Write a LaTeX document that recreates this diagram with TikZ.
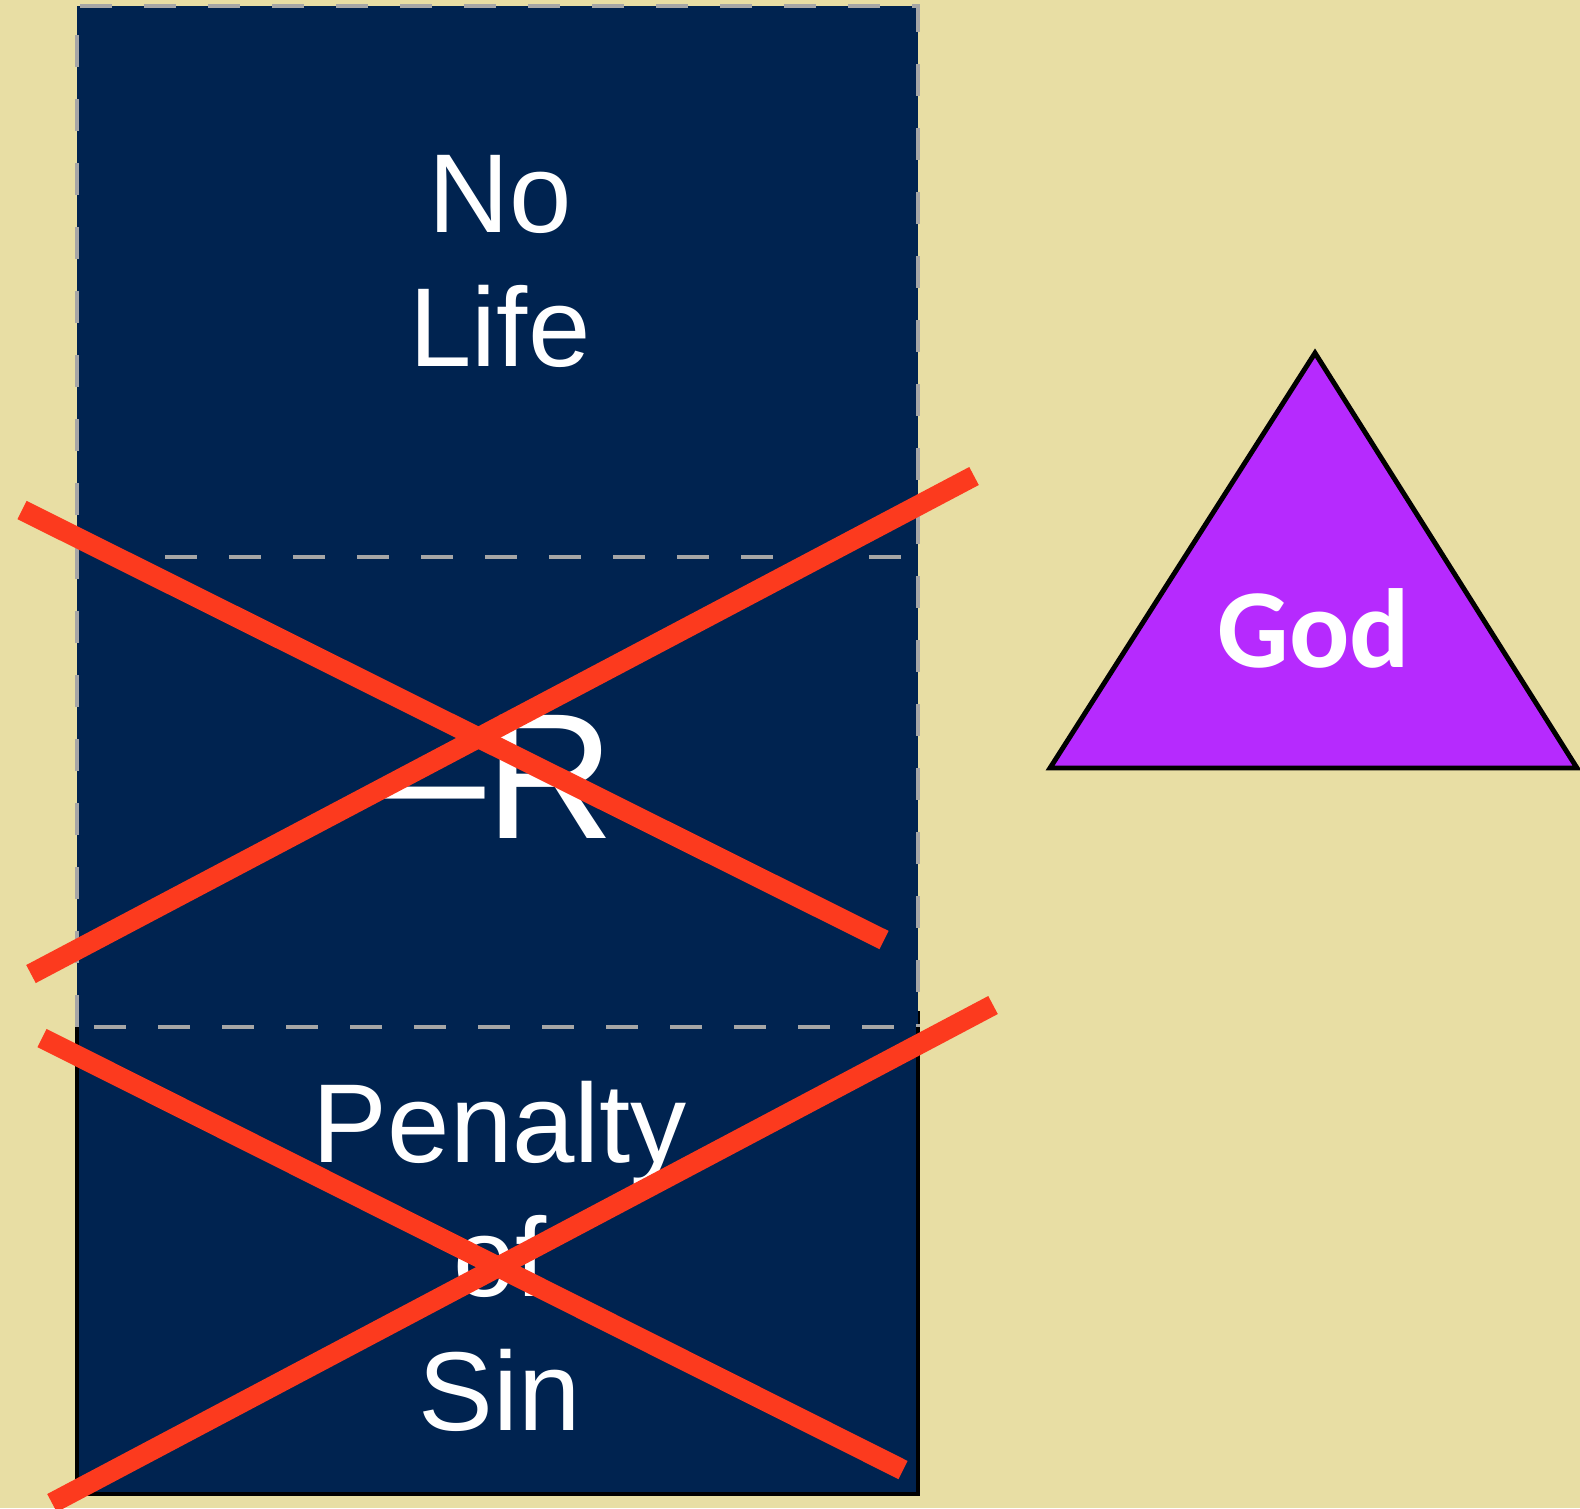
\documentclass[tikz,border=0pt]{standalone}
\usepackage{fontspec}
\setmainfont{Liberation Sans}
\newfontfamily\godfont{Carlito}
\usepackage{tikz}

\definecolor{parch}{RGB}{232,222,164}
\definecolor{navy}{RGB}{0,35,80}
\definecolor{crossred}{RGB}{252,58,30}
\definecolor{godpurple}{RGB}{182,42,254}
\definecolor{dashgray}{RGB}{166,166,166}

\begin{document}
\begin{tikzpicture}[x=0.01cm, y=-0.01cm,
    dashedge/.style={draw=dashgray, line width=1.4pt, dash pattern=on 9.1pt off 9.1pt},
    cross/.style={draw=crossred, line width=5.8pt},
    word/.style={text=white, inner sep=0pt, align=center,
                 font=\fontsize{31.9}{38.1}\selectfont}]
    % Background
    \useasboundingbox (0,0) rectangle (1580,1508);
    \clip (0,0) rectangle (1580,1508);
    \fill[parch] (0,0) rectangle (1580,1508);

    % Panels
    \draw[fill=navy, draw=black, line width=1.2pt] (77,1013) rectangle (918,1494);
    \fill[navy] (77,6) rectangle (918,1027);
    \draw[dashedge] (77,1027) -- (77,6) -- (918,6) -- (918,1027);
    \draw[dashedge] (101,557) -- (918,557);
    \draw[dashedge] (94,1027) -- (918,1027);

    % Texts
    \node[word] (nolife) at (500,261) {No\\Life};
    \node[word, anchor=base, font=\fontsize{50.9}{60}\selectfont] (minusr) at (500,838) {–R};
    \node[word] (penalty) at (500,1256) {Penalty\\of\\Sin};

    % Crosses
    \draw[cross] (22,510) -- (884,940);
    \draw[cross] (31,974) -- (974,476);
    \draw[cross] (42,1038) -- (903,1470);
    \draw[cross] (993,1005) -- (52,1503);

    % Triangle
    \draw[fill=godpurple, line width=1.4pt] (1315,353) -- (1577,768) -- (1050,768) -- cycle;
    \node[word, anchor=base, font=\godfont\bfseries\fontsize{32}{38}\selectfont] (god) at (1314,667) {God};
\end{tikzpicture}
\end{document}
